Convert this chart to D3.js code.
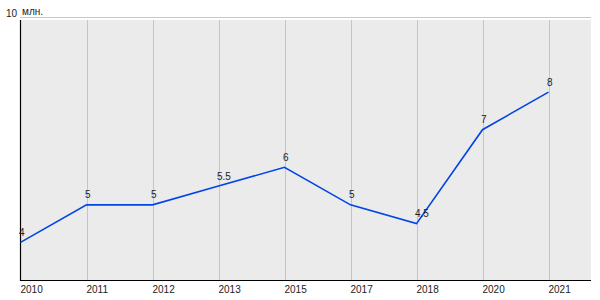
<!DOCTYPE html>
<html>
<head>
<meta charset="utf-8">
<script src="https://cdn.jsdelivr.net/npm/d3@7"></script>
<style>
  body { margin: 0; background: #fff; }
  text { font-family: "Liberation Sans", Arial, sans-serif; font-size: 10px; fill: #222; }
</style>
</head>
<body>
<div id="chart"></div>
<script>
var years = ["2010", "2011", "2012", "2013", "2015", "2017", "2018", "2020", "2021"];
var values = [4, 5, 5, 5.5, 6, 5, 4.5, 7, 8];
var valueLabels = ["4", "5", "5", "5.5", "6", "5", "4.5", "7", "8"];
var yMax = 10, yMin = 3;
var unitLabel = "млн.";

var width = 600, height = 300;
var plotLeft = 20, plotRight = 591, plotTop = 17, plotBottom = 280;

var svg = d3.select("#chart").append("svg")
    .attr("width", width)
    .attr("height", height);

var x = d3.scalePoint()
    .domain(years)
    .range([plotLeft + 0.5, 548.5]);

var y = d3.scaleLinear()
    .domain([yMin, yMax])
    .range([plotBottom, plotTop]);

// plot background
svg.append("rect")
   .attr("x", plotLeft).attr("y", 20)
   .attr("width", plotRight - plotLeft).attr("height", plotBottom - 20)
   .attr("fill", "#ebebeb");

// top line at max value
svg.append("line")
   .attr("x1", plotLeft).attr("x2", plotRight)
   .attr("y1", y(yMax) + 0.5).attr("y2", y(yMax) + 0.5)
   .attr("stroke", "#c8c8c8");

// vertical grid
svg.append("g")
   .selectAll("line")
   .data(years.slice(1))
   .enter().append("line")
   .attr("x1", function(d) { return Math.round(x(d)) + 0.5; })
   .attr("x2", function(d) { return Math.round(x(d)) + 0.5; })
   .attr("y1", 20).attr("y2", plotBottom)
   .attr("stroke", "#c4c4c4");

// axes lines
svg.append("line")
   .attr("x1", plotLeft + 0.5).attr("x2", plotLeft + 0.5)
   .attr("y1", 20).attr("y2", plotBottom + 1)
   .attr("stroke", "#000").attr("stroke-width", 1.2);
svg.append("line")
   .attr("x1", plotLeft).attr("x2", plotRight)
   .attr("y1", plotBottom + 0.5).attr("y2", plotBottom + 0.5)
   .attr("stroke", "#000").attr("stroke-width", 1.2);

// y label
svg.append("text")
   .attr("x", 17).attr("y", y(yMax) - 0.5)
   .attr("text-anchor", "end")
   .text(yMax);
svg.append("text")
   .attr("x", 22).attr("y", y(yMax) - 2)
   .text(unitLabel);

// x tick labels
svg.append("g")
   .selectAll("text")
   .data(years)
   .enter().append("text")
   .attr("x", function(d) { return Math.round(x(d)) - 0.5; })
   .attr("y", 293)
   .text(function(d) { return d; });

// line
var line = d3.line()
    .x(function(d, i) { return x(years[i]); })
    .y(function(d) { return y(d); });

svg.append("path")
   .datum(values)
   .attr("d", line)
   .attr("fill", "none")
   .attr("stroke", "#0044e6")
   .attr("stroke-width", 1.6);

// value labels
svg.append("g")
   .selectAll("text")
   .data(values)
   .enter().append("text")
   .attr("x", function(d, i) { return x(years[i]) - 1.5; })
   .attr("y", function(d) { return y(d) - 6.5; })
   .text(function(d, i) { return valueLabels[i]; });
</script>
</body>
</html>
